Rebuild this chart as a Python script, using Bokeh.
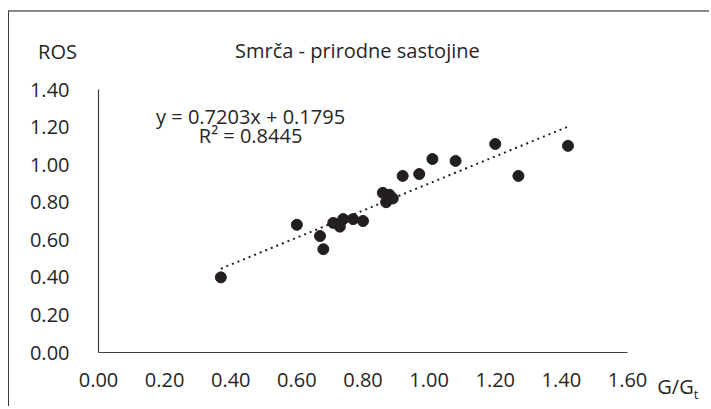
from bokeh.plotting import figure
from bokeh.models import Range1d, FixedTicker, Label, NumeralTickFormatter
from bokeh.embed import file_html
from bokeh.resources import INLINE

# data
g_ratio = [0.37, 0.60, 0.67, 0.68, 0.71, 0.73, 0.74, 0.77, 0.80,
           0.86, 0.88, 0.87, 0.89, 0.92, 0.97, 1.01, 1.08, 1.20, 1.27, 1.42]
ros = [0.40, 0.68, 0.62, 0.55, 0.69, 0.67, 0.71, 0.71, 0.70,
       0.85, 0.84, 0.80, 0.82, 0.94, 0.95, 1.03, 1.02, 1.11, 0.94, 1.10]
slope = 0.7203
intercept = 0.1795
r2 = 0.8445
x_ticks = [0.0, 0.2, 0.4, 0.6, 0.8, 1.0, 1.2, 1.4, 1.6]
y_ticks = [0.0, 0.2, 0.4, 0.6, 0.8, 1.0, 1.2, 1.4]
title_text = "Smrča - prirodne sastojine"
y_title = "ROS"
x_title = "G/G"
x_title_sub = "t"

FONT = "Open Sans"
TXT = "#262626"
FS = "20px"

p = figure(width=701, height=396, output_backend="svg", toolbar_location=None,
           x_range=Range1d(0, 1.6), y_range=Range1d(0, 1.4),
           min_border_left=89, min_border_right=83, min_border_top=77, min_border_bottom=56,
           styles={"margin-left": "8px", "margin-top": "10px",
                   "border-top": "2px solid #8a8a8a",
                   "border-left": "1px solid #3a3a3a"})
p.outline_line_color = None
p.grid.visible = False

for ax in (p.xaxis[0], p.yaxis[0]):
    ax.major_tick_line_color = None
    ax.minor_tick_line_color = None
    ax.axis_line_color = "#404040"
    ax.axis_line_width = 1.2
    ax.major_label_text_font = FONT
    ax.major_label_text_font_size = FS
    ax.major_label_text_color = TXT
    ax.formatter = NumeralTickFormatter(format="0.00")
p.xaxis[0].ticker = FixedTicker(ticks=x_ticks)
p.yaxis[0].ticker = FixedTicker(ticks=y_ticks)
p.xaxis[0].major_label_standoff = 14
p.yaxis[0].major_label_standoff = 23

xmin, xmax = min(g_ratio), max(g_ratio)
p.line([xmin, xmax], [slope * xmin + intercept, slope * xmax + intercept],
       line_color="#231f20", line_width=2, line_dash="2 4")
p.scatter(g_ratio, ros, size=11, color="#231f20")

def lab(x, y, text, place=None, size=FS, align="center"):
    lb = Label(x=x, y=y, text=text, text_font=FONT, text_font_size=size,
               text_color=TXT, text_align=align, text_baseline="middle")
    if place is None:
        p.add_layout(lb)
    else:
        p.add_layout(lb, place)

lab(-0.124, 1.60, y_title, "above")
lab(0.783, 1.605, title_text, "above")
lab(0.46, 1.255, f"y = {slope:.4f}x + {intercept:.4f}")
lab(0.46, 1.154, f"R² = {r2:.4f}")
lab(1.69, -0.18, x_title, "right", align="left")
lab(1.80, -0.222, x_title_sub, "right", size="13px", align="left")

open("out.html", "w").write(file_html(p, INLINE))
